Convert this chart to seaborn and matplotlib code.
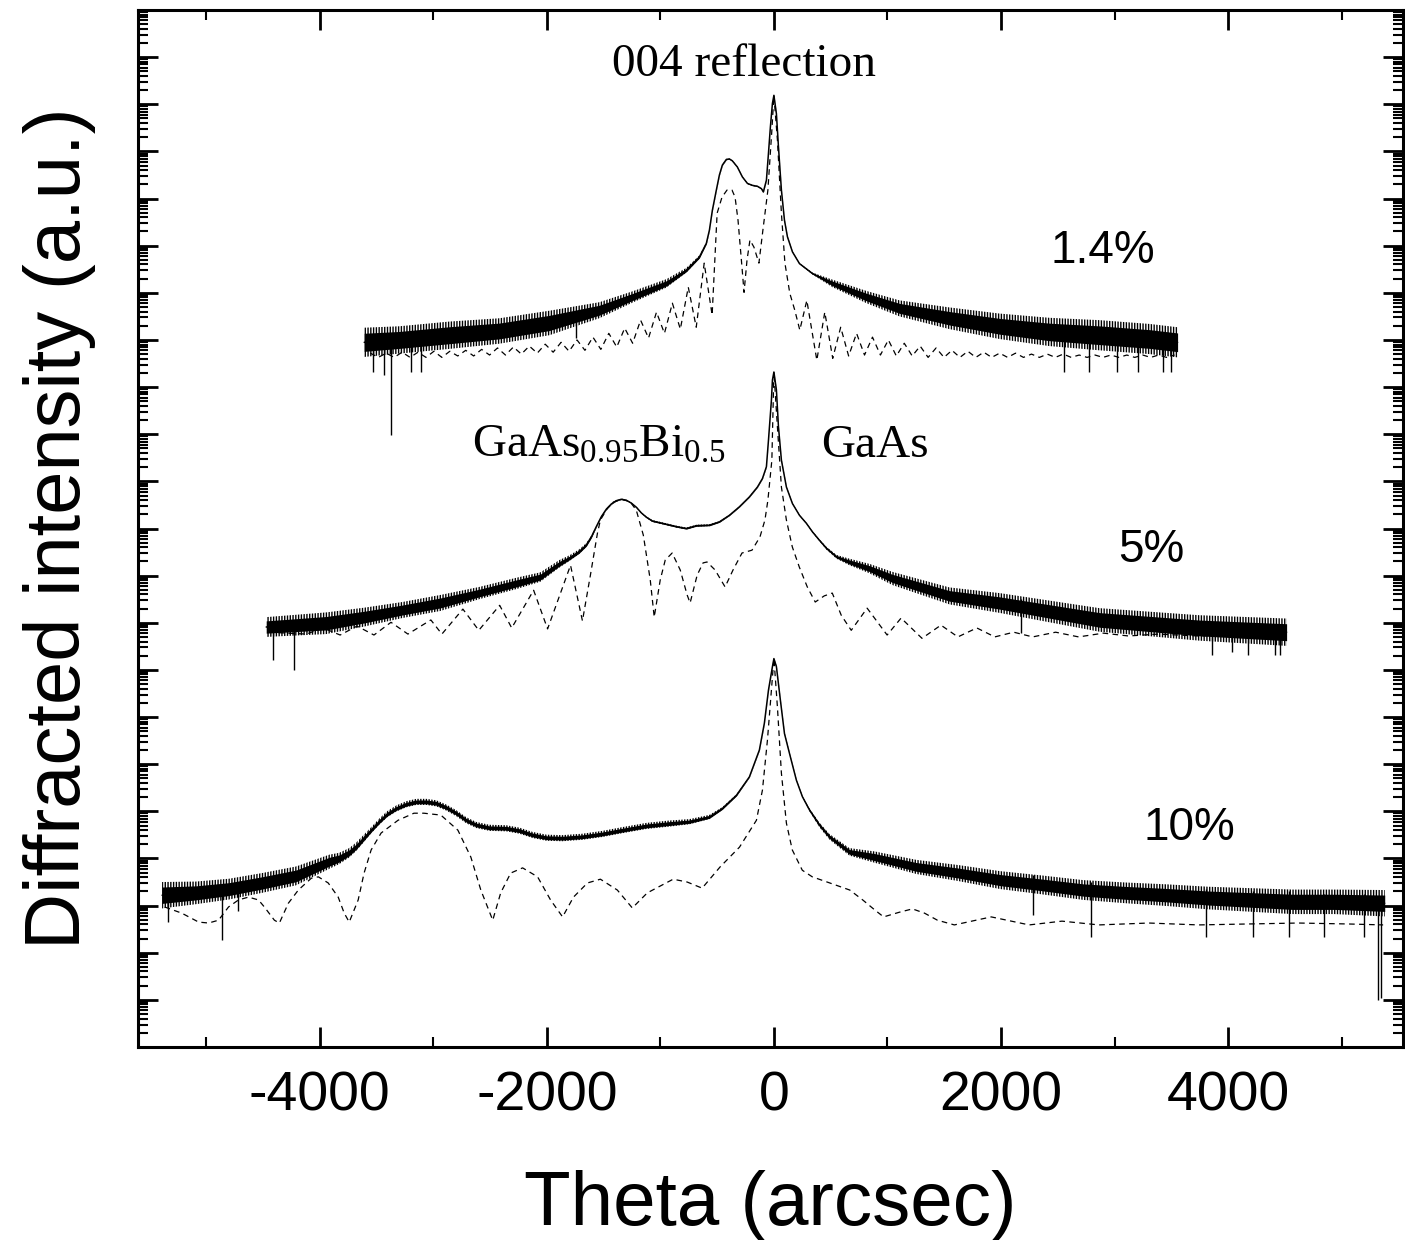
import numpy as np
import pandas as pd
import matplotlib
matplotlib.use("Agg")
import matplotlib.pyplot as plt
from matplotlib.ticker import LogLocator, MultipleLocator, NullFormatter
import seaborn as sns

# ---------------------------------------------------------------------------
# Rocking curves (004 reflection) of GaAsBi layers on GaAs.
# Intensities are stored as log10(intensity, a.u.); curves are stacked
# vertically on a shared logarithmic axis.
# ---------------------------------------------------------------------------

# 1.4 % Bi : measured curve (centre of the noisy trace and its noise half-width)
theta_14 = [-3608, -3300, -2859, -2419, -1978, -1538, -1247, -947, -771, -656,
            -595, -568, -542, -507, -480, -454, -419, -392, -366, -322,
            -278, -233, -189, -145, -110, -93, -66, -48, -31, -13,
            0, 22, 40, 66, 93, 119, 163, 225, 339, 515,
            815, 1106, 1546, 1987, 2427, 2868, 3308, 3555]
logi_14 = [14.95, 15.00, 15.10, 15.19, 15.36, 15.63, 15.91, 16.20, 16.48, 16.76,
           17.05, 17.33, 17.75, 18.18, 18.50, 18.71, 18.83, 18.84, 18.80, 18.67,
           18.46, 18.32, 18.28, 18.26, 18.21, 18.14, 18.39, 18.96, 19.52, 20.02,
           20.19, 19.80, 19.10, 18.18, 17.54, 17.19, 16.87, 16.62, 16.41, 16.20,
           15.91, 15.67, 15.46, 15.29, 15.17, 15.10, 15.02, 14.95]
noise_14 = [0.31, 0.29, 0.29, 0.27, 0.26, 0.17, 0.12, 0.09, 0.05, 0.035,
            0.02, 0.01, 0.01, 0.01, 0.01, 0.01, 0.01, 0.01, 0.01, 0.01,
            0.01, 0.01, 0.01, 0.01, 0.01, 0.01, 0.01, 0.01, 0.01, 0.01,
            0.01, 0.01, 0.01, 0.01, 0.01, 0.01, 0.01, 0.01, 0.02, 0.08,
            0.13, 0.17, 0.23, 0.27, 0.30, 0.32, 0.32, 0.32]
spike_theta_14 = [-3530, -3433, -3372, -3196, -3108, -1747, 2551, 2771, 3017, 3210, 3430, 3500]
spike_low_14 = [14.32, 14.25, 12.98, 14.32, 14.32, 15.04, 14.32, 14.32, 14.32, 14.32, 14.32, 14.32]
spike_high_14 = [14.95, 14.95, 14.95, 15.00, 15.00, 15.40, 15.15, 15.12, 15.10, 15.08, 15.00, 15.00]

# 1.4 % Bi : simulated curve
theta_14_sim = [-3554, -3484, -3414, -3344, -3274, -3204, -3134, -3064, -2994, -2924,
                -2854, -2784, -2714, -2644, -2574, -2504, -2434, -2364, -2294, -2224,
                -2154, -2084, -2014, -1944, -1874, -1804, -1734, -1664, -1594, -1524,
                -1454, -1384, -1314, -1244, -1174, -1104, -1034, -964, -894, -824,
                -754, -684, -614, -544, -500, -457, -413, -369, -342, -316,
                -281, -263, -237, -211, -176, -132, -97, -53, -18, 0,
                31, 66, 97, 140, 184, 228, 290, 378, 448, 518,
                588, 658, 728, 798, 868, 938, 1008, 1078, 1148, 1218,
                1288, 1358, 1428, 1498, 1568, 1638, 1708, 1778, 1848, 1918,
                1988, 2058, 2128, 2198, 2268, 2338, 2408, 2478, 2548, 2618,
                2688, 2758, 2828, 2898, 2968, 3038, 3108, 3178, 3248, 3318,
                3388, 3458, 3528]
logi_14_sim = [14.72, 14.63, 14.72, 14.63, 14.74, 14.63, 14.74, 14.63, 14.76, 14.63,
               14.76, 14.66, 14.78, 14.66, 14.80, 14.68, 14.83, 14.68, 14.85, 14.70,
               14.87, 14.72, 14.91, 14.74, 14.95, 14.76, 15.00, 14.78, 15.06, 14.80,
               15.14, 14.85, 15.25, 14.93, 15.42, 15.04, 15.59, 15.14, 15.78, 15.23,
               16.12, 15.27, 16.63, 15.53, 17.69, 18.03, 18.18, 18.18, 18.03, 17.54,
               16.54, 16.01, 16.69, 17.12, 16.97, 16.63, 17.33, 18.18, 19.45, 20.19,
               19.24, 17.69, 16.63, 15.99, 15.63, 15.21, 15.84, 14.57, 15.59, 14.61,
               15.27, 14.66, 15.14, 14.68, 15.06, 14.68, 15.00, 14.66, 14.93, 14.66,
               14.87, 14.63, 14.83, 14.63, 14.78, 14.63, 14.76, 14.63, 14.74, 14.63,
               14.72, 14.63, 14.72, 14.63, 14.70, 14.63, 14.70, 14.63, 14.70, 14.63,
               14.68, 14.63, 14.68, 14.63, 14.68, 14.63, 14.68, 14.63, 14.68, 14.63,
               14.68, 14.63, 14.68]

# 5 % Bi : measured curve
theta_5 = [-4471, -3943, -3608, -3273, -2938, -2595, -2260, -2057, -1890, -1802,
           -1714, -1652, -1608, -1564, -1520, -1476, -1432, -1388, -1344, -1300,
           -1256, -1211, -1167, -1123, -1071, -982, -859, -771, -683, -568,
           -480, -392, -304, -216, -145, -101, -66, -48, -22, -13,
           0, 22, 40, 66, 110, 163, 225, 286, 339, 401,
           463, 551, 665, 841, 1044, 1546, 1987, 2868, 3749, 4515]
logi_5 = [8.91, 8.99, 9.12, 9.27, 9.42, 9.63, 9.84, 9.97, 10.25, 10.37,
          10.51, 10.65, 10.82, 11.04, 11.25, 11.41, 11.52, 11.59, 11.62, 11.60,
          11.54, 11.45, 11.33, 11.24, 11.16, 11.11, 11.04, 11.00, 11.06, 11.07,
          11.14, 11.28, 11.46, 11.67, 11.88, 12.06, 12.31, 12.87, 13.72, 14.15,
          14.32, 13.94, 13.16, 12.45, 11.88, 11.53, 11.28, 11.11, 10.93, 10.75,
          10.58, 10.40, 10.29, 10.15, 9.94, 9.57, 9.42, 9.06, 8.89, 8.80]
noise_5 = [0.21, 0.23, 0.20, 0.17, 0.17, 0.13, 0.12, 0.10, 0.08, 0.06,
           0.05, 0.04, 0.03, 0.01, 0.01, 0.01, 0.01, 0.01, 0.01, 0.01,
           0.01, 0.01, 0.01, 0.015, 0.02, 0.02, 0.02, 0.02, 0.02, 0.02,
           0.015, 0.01, 0.01, 0.01, 0.01, 0.01, 0.01, 0.01, 0.01, 0.01,
           0.01, 0.01, 0.01, 0.01, 0.01, 0.01, 0.01, 0.01, 0.015, 0.02,
           0.03, 0.04, 0.07, 0.10, 0.14, 0.18, 0.21, 0.25, 0.27, 0.29]
spike_theta_5 = [-4408, -4223, 2178, 3854, 4030, 4179, 4416, 4460]
spike_low_5 = [8.21, 8.00, 8.78, 8.31, 8.38, 8.31, 8.31, 8.31]
spike_high_5 = [9.00, 9.00, 9.50, 9.00, 8.95, 8.95, 8.90, 8.90]

# 5 % Bi : simulated curve
theta_5_sim = [-4452, -4118, -3969, -3820, -3671, -3522, -3372, -3223, -3021, -2924,
               -2739, -2599, -2415, -2309, -2116, -1993, -1791, -1686, -1616, -1554,
               -1528, -1466, -1414, -1335, -1264, -1212, -1150, -1089, -1054, -1001,
               -957, -896, -825, -764, -738, -676, -624, -589, -518, -430,
               -360, -281, -193, -123, -79, -53, -18, 0, 31, 66,
               110, 162, 224, 294, 364, 443, 514, 593, 681, 821,
               997, 1120, 1304, 1471, 1620, 1787, 1945, 2112, 2279, 2481,
               2683, 2902, 3122, 3385, 3736, 4091, 4504]
logi_5_sim = [8.80, 8.76, 8.89, 8.74, 8.93, 8.74, 9.01, 8.76, 9.06, 8.76,
              9.29, 8.84, 9.37, 8.89, 9.69, 8.87, 10.22, 9.04, 10.01, 10.90,
              11.18, 11.43, 11.56, 11.62, 11.56, 11.39, 10.86, 9.91, 9.12, 9.91,
              10.33, 10.48, 10.12, 9.59, 9.42, 10.01, 10.27, 10.29, 10.12, 9.76,
              10.12, 10.48, 10.54, 10.82, 11.18, 11.60, 12.45, 14.32, 13.15, 11.88,
              11.18, 10.61, 10.18, 9.76, 9.44, 9.57, 9.63, 9.16, 8.84, 9.31,
              8.74, 9.10, 8.67, 8.95, 8.70, 8.89, 8.70, 8.80, 8.70, 8.80,
              8.70, 8.78, 8.72, 8.76, 8.72, 8.74, 8.72]

# 10 % Bi : measured curve
theta_10 = [-5388, -5089, -4798, -4508, -4208, -3916, -3828, -3740, -3678, -3625,
            -3546, -3476, -3405, -3326, -3238, -3150, -3062, -2974, -2885, -2797,
            -2709, -2621, -2506, -2357, -2242, -2128, -2004, -1863, -1687, -1511,
            -1335, -1123, -921, -744, -568, -454, -330, -216, -128, -84,
            -48, -13, 0, 22, 57, 93, 137, 198, 251, 313,
            401, 489, 665, 885, 1255, 1625, 1995, 2357, 2727, 3097,
            3467, 3828, 4198, 4568, 4938, 5379]
logi_10 = [3.22, 3.27, 3.35, 3.48, 3.63, 3.93, 4.00, 4.12, 4.25, 4.39,
           4.60, 4.78, 4.94, 5.06, 5.15, 5.20, 5.20, 5.17, 5.08, 4.96,
           4.81, 4.71, 4.65, 4.64, 4.59, 4.50, 4.44, 4.43, 4.46, 4.52,
           4.60, 4.69, 4.74, 4.78, 4.88, 5.06, 5.34, 5.73, 6.30, 6.87,
           7.57, 8.07, 8.24, 8.07, 7.36, 6.65, 6.23, 5.66, 5.31, 5.03,
           4.71, 4.46, 4.14, 4.03, 3.82, 3.69, 3.54, 3.44, 3.33, 3.27,
           3.22, 3.16, 3.12, 3.08, 3.08, 3.05]
noise_10 = [0.28, 0.24, 0.22, 0.21, 0.20, 0.15, 0.12, 0.10, 0.09, 0.08,
            0.065, 0.065, 0.065, 0.065, 0.065, 0.065, 0.065, 0.065, 0.065, 0.065,
            0.065, 0.065, 0.065, 0.065, 0.065, 0.065, 0.065, 0.065, 0.065, 0.065,
            0.065, 0.065, 0.065, 0.055, 0.045, 0.03, 0.02, 0.01, 0.01, 0.01,
            0.01, 0.01, 0.01, 0.01, 0.01, 0.01, 0.01, 0.01, 0.01, 0.03,
            0.05, 0.06, 0.08, 0.12, 0.15, 0.17, 0.19, 0.20, 0.21, 0.22,
            0.23, 0.24, 0.25, 0.26, 0.26, 0.28]
spike_theta_10 = [-5340, -4864, -4715, 2283, 2792, 3802, 4223, 4539, 4846, 5198, 5317, 5343]
spike_low_10 = [2.65, 2.27, 2.89, 2.80, 2.33, 2.33, 2.33, 2.33, 2.33, 2.33, 1.00, 1.05]
spike_high_10 = [3.40, 3.45, 3.50, 3.65, 3.50, 3.35, 3.30, 3.30, 3.25, 3.25, 3.20, 3.20]

# 10 % Bi : simulated curve
theta_10_sim = [-5365, -5215, -5066, -4978, -4891, -4803, -4715, -4627, -4539, -4487,
                -4399, -4355, -4276, -4188, -4074, -4012, -3925, -3837, -3784, -3740,
                -3661, -3609, -3547, -3459, -3310, -3170, -3082, -2933, -2783, -2669,
                -2581, -2476, -2406, -2318, -2213, -2081, -1967, -1861, -1765, -1642,
                -1528, -1379, -1247, -1115, -887, -764, -632, -474, -303, -154,
                -101, -57, -22, 0, 31, 66, 110, 162, 250, 338,
                492, 668, 782, 887, 966, 1106, 1220, 1326, 1440, 1589,
                1914, 2248, 2537, 2862, 3301, 3740, 4179, 4618, 5057, 5365]
logi_10_sim = [2.97, 2.84, 2.65, 2.63, 2.69, 2.97, 3.12, 3.18, 3.12, 2.97,
               2.69, 2.63, 3.05, 3.33, 3.58, 3.61, 3.48, 3.18, 2.84, 2.65,
               3.12, 3.69, 4.18, 4.54, 4.81, 4.96, 4.96, 4.92, 4.60, 4.03,
               3.33, 2.69, 3.27, 3.69, 3.80, 3.61, 3.12, 2.76, 3.18, 3.48,
               3.56, 3.33, 2.95, 3.27, 3.56, 3.50, 3.37, 3.82, 4.24, 4.81,
               5.45, 6.51, 7.57, 8.25, 7.21, 5.81, 4.75, 4.18, 3.75, 3.61,
               3.48, 3.33, 3.12, 2.91, 2.76, 2.86, 2.93, 2.84, 2.69, 2.59,
               2.76, 2.59, 2.67, 2.59, 2.63, 2.59, 2.61, 2.63, 2.61, 2.59]

# Text
x_label = "Theta (arcsec)"
y_label = "Diffracted intensity (a.u.)"
x_ticks = [-4000, -2000, 0, 2000, 4000]
x_tick_labels = ["-4000", "-2000", "0", "2000", "4000"]
sample_labels = ["1.4%", "5%", "10%"]
title_text = "004 reflection"
layer_text = r"GaAs$_{\mathrm{0.95}}$Bi$_{\mathrm{0.5}}$"
substrate_text = "GaAs"

# ---------------------------------------------------------------------------
sns.set_theme(style="ticks")
plt.rcParams["font.family"] = ["Liberation Sans", "DejaVu Sans"]
plt.rcParams["axes.unicode_minus"] = False
plt.rcParams["mathtext.fontset"] = "custom"
plt.rcParams["mathtext.rm"] = "Liberation Serif"
plt.rcParams["mathtext.it"] = "Liberation Serif:italic"
plt.rcParams["mathtext.bf"] = "Liberation Serif:bold"
plt.rcParams["hatch.linewidth"] = 1.0
plt.rcParams["hatch.color"] = "black"

fig = plt.figure(figsize=(14.05, 12.40), dpi=100)
fig.patch.set_facecolor("white")
ax = fig.add_axes([138 / 1405, 193 / 1240, 1265 / 1405, 1037 / 1240])
ax.set_facecolor("white")
ax.set_yscale("log")


def to_frame(theta, logi):
    return pd.DataFrame({"theta": np.asarray(theta, float),
                         "intensity": np.power(10.0, np.asarray(logi, float))})


def draw_simulated(theta, logi):
    sns.lineplot(data=to_frame(theta, logi), x="theta", y="intensity", ax=ax,
                 estimator=None, sort=False, color="black", linewidth=0.9,
                 linestyle=(0, (4.5, 3.5)), legend=False, zorder=2)


def draw_measured(theta, logi, noise, sp_theta, sp_low, sp_high):
    t = np.asarray(theta, float)
    c = np.asarray(logi, float)
    n = np.asarray(noise, float)
    # dense core of the counting noise
    ax.fill_between(t, np.power(10.0, c - 0.62 * n), np.power(10.0, c + 0.62 * n),
                    color="black", linewidth=0, zorder=3)
    # outer fringe of the noise, drawn as fine vertical strokes
    ax.fill_between(t, np.power(10.0, c - n), np.power(10.0, c + n),
                    facecolor="none", edgecolor="black", hatch="||||||",
                    linewidth=0, zorder=3)
    ax.vlines(sp_theta, np.power(10.0, sp_low), np.power(10.0, sp_high),
              color="black", linewidth=1.0, zorder=3)
    sns.lineplot(data=to_frame(theta, logi), x="theta", y="intensity", ax=ax,
                 estimator=None, sort=False, color="black", linewidth=1.1,
                 legend=False, zorder=4)


draw_simulated(theta_14_sim, logi_14_sim)
draw_simulated(theta_5_sim, logi_5_sim)
draw_simulated(theta_10_sim, logi_10_sim)
draw_measured(theta_14, logi_14, noise_14, spike_theta_14, spike_low_14, spike_high_14)
draw_measured(theta_5, logi_5, noise_5, spike_theta_5, spike_low_5, spike_high_5)
draw_measured(theta_10, logi_10, noise_10, spike_theta_10, spike_low_10, spike_high_10)

# Axes
ax.set_xlim(-5600, 5540)
ax.set_ylim(1e0, 1e22)
ax.set_xticks(x_ticks)
ax.set_xticklabels(x_tick_labels)
ax.xaxis.set_minor_locator(MultipleLocator(1000))
ax.yaxis.set_major_locator(LogLocator(base=10, numticks=40))
ax.yaxis.set_minor_locator(LogLocator(base=10, subs=np.arange(2, 10), numticks=40))
ax.yaxis.set_major_formatter(NullFormatter())
ax.yaxis.set_minor_formatter(NullFormatter())

ax.tick_params(which="both", direction="in", top=True, right=True,
               color="black", labelcolor="black")
ax.tick_params(which="major", length=14.4, width=2.0)
ax.tick_params(which="minor", length=7.2, width=1.5)
ax.tick_params(axis="x", which="major", labelsize=40, pad=17)
ax.tick_params(axis="y", which="both", labelleft=False)
for spine in ax.spines.values():
    spine.set_linewidth(2.2)
    spine.set_color("black")

ax.set_xlabel(x_label, fontsize=55, color="black", va="center")
ax.xaxis.set_label_coords(0.5, -0.153)
ax.set_ylabel(y_label, fontsize=56, color="black", va="center")
ax.yaxis.set_label_coords(-0.062, 0.5)

# Annotations
serif = ["Liberation Serif", "DejaVu Serif"]
ax.text(0.479, 0.936, title_text, transform=ax.transAxes, fontsize=34,
        family=serif, ha="center", va="baseline", color="black")
ax.text(0.264, 0.569, layer_text, transform=ax.transAxes, fontsize=34,
        family=serif, ha="left", va="baseline", color="black")
ax.text(0.540, 0.569, substrate_text, transform=ax.transAxes, fontsize=34,
        family=serif, ha="left", va="baseline", color="black")
for label, (fx, fy) in zip(sample_labels, [(0.7215, 0.756), (0.775, 0.468), (0.795, 0.1996)]):
    ax.text(fx, fy, label, transform=ax.transAxes, fontsize=33,
            ha="left", va="baseline", color="black")

fig.savefig("out.png", dpi=100, facecolor="white")
